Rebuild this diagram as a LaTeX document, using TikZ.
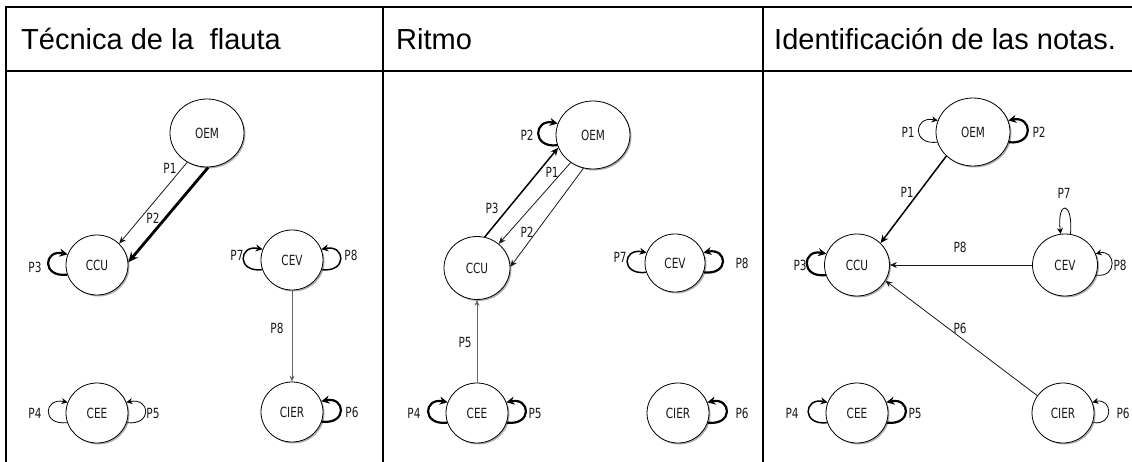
\documentclass[tikz,border=0pt]{standalone}
\usepackage{fontspec}
\setmainfont{Liberation Sans}
\newfontfamily\lblfont[FakeStretch=0.75]{DejaVu Sans}
\usetikzlibrary{shapes.geometric,arrows.meta,shadows}
\begin{document}
\begin{tikzpicture}[x=1pt,y=-1pt,
  st/.style={ellipse, draw=black, line width=0.8pt, fill=white, inner sep=0pt,
    minimum width=62pt, minimum height=60pt, text=black!90,
    font=\lblfont\fontsize{14}{14}\selectfont,
    drop shadow={shadow xshift=1.5pt,shadow yshift=-1.5pt,fill=black!45,opacity=0.7}},
  big/.style={minimum width=74pt, minimum height=68pt},
  lbl/.style={font=\lblfont\fontsize{14}{14}\selectfont, inner sep=0pt, text=black!90},
  head/.style={anchor=base west, inner sep=0pt, font=\fontsize{29}{30}\selectfont},
  rule/.style={line width=2.5pt, line cap=rect},
  eA/.style={line width=0.8pt, draw=black!90, -{Stealth[length=7pt,width=6pt]}},
  eG/.style={line width=0.6pt, draw=black!60, -{Stealth[length=6pt,width=5pt]}},
  eB/.style={line width=1.5pt, -{Stealth[length=8pt,width=7pt]}},
  eC/.style={line width=2.8pt, -{Stealth[length=10pt,width=9pt]}},
  lA/.style={line width=0.8pt, -{Stealth[length=6pt,width=6pt]}},
  lB/.style={line width=1.5pt, -{Stealth[length=7pt,width=7pt]}},
  lC/.style={line width=2.2pt, -{Stealth[length=8pt,width=8pt]}}
]
\useasboundingbox (0,0) rectangle (1132,462);
% table
\draw[rule] (6,7) -- (1132,7);
\draw[rule] (6,71) -- (1132,71);
\draw[rule] (6,7) -- (6,462);
\draw[rule] (383,7) -- (383,462);
\draw[rule] (763,7) -- (763,462);
\node[head] (h1) at (21,50) {Técnica de la\ \ flauta};
\node[head] (h2) at (396,50) {Ritmo};
\node[head] (h3) at (774,50) {Identificación de las notas.};

% ---------- panel 1 ----------
\node[st,big] (a1) at (207,133) {OEM};
\node[st] (b1) at (97,265) {CCU};
\node[st] (c1) at (292,260) {CEV};
\node[st] (d1) at (97,413) {CEE};
\node[st] (e1) at (292,412) {CIER};
\draw[eA] (a1.236) -- (b1.44);
\draw[eC] (a1.272) -- (b1.5);
\draw[eG] (c1.south) -- (e1.north);
\draw[lC] (b1.198) .. controls +(-26,3) and +(-24,-5) .. (b1.160);
\draw[lB] (c1.198) .. controls +(-26,3) and +(-24,-5) .. (c1.160);
\draw[lB] (c1.-18) .. controls +(26,3) and +(24,-5) .. (c1.20);
\draw[lA] (d1.198) .. controls +(-26,3) and +(-24,-5) .. (d1.160);
\draw[lA] (d1.-18) .. controls +(26,3) and +(24,-5) .. (d1.20);
\draw[lC] (e1.-18) .. controls +(26,3) and +(24,-5) .. (e1.20);
\node[lbl] (p1a) at (170,168) {P1};
\node[lbl] (p1b) at (153,218) {P2};
\node[lbl] (p1c) at (35,267) {P3};
\node[lbl] (p1d) at (237,255) {P7};
\node[lbl] (p1e) at (351,255) {P8};
\node[lbl] (p1f) at (277,328) {P8};
\node[lbl] (p1g) at (35,413) {P4};
\node[lbl] (p1h) at (153,413) {P5};
\node[lbl] (p1i) at (352,412) {P6};

% ---------- panel 2 ----------
\node[st,big] (a2) at (593,135) {OEM};
\node[st,minimum width=66pt,minimum height=63pt] (b2) at (477,268) {CCU};
\node[st,minimum width=60pt,minimum height=58pt] (c2) at (675,263) {CEV};
\node[st] (d2) at (477,413) {CEE};
\node[st] (e2) at (678,413) {CIER};
\draw[eB] (b2.76) -- (a2.200);
\draw[eA] (a2.231) -- (b2.48);
\draw[eA] (a2.254) -- (b2.2);
\draw[eG] (d2.north) -- (b2.south);
\draw[lC] (a2.196) .. controls +(-26,3) and +(-24,-5) .. (a2.162);
\draw[lC] (d2.198) .. controls +(-26,3) and +(-24,-5) .. (d2.160);
\draw[lC] (d2.-18) .. controls +(26,3) and +(24,-5) .. (d2.20);
\draw[lB] (c2.198) .. controls +(-26,3) and +(-24,-5) .. (c2.160);
\draw[lC] (c2.-18) .. controls +(26,3) and +(24,-5) .. (c2.20);
\draw[lC] (e2.-18) .. controls +(26,3) and +(24,-5) .. (e2.20);
\node[lbl] (p2a) at (527,135) {P2};
\node[lbl] (p2b) at (492,208) {P3};
\node[lbl] (p2c) at (552,172) {P1};
\node[lbl] (p2d) at (527,232) {P2};
\node[lbl] (p2e) at (465,342) {P5};
\node[lbl] (p2f) at (414,413) {P4};
\node[lbl] (p2g) at (535,413) {P5};
\node[lbl] (p2h) at (620,257) {P7};
\node[lbl] (p2i) at (742,263) {P8};
\node[lbl] (p2j) at (742,413) {P6};

% ---------- panel 3 ----------
\node[st,big] (a3) at (973,132) {OEM};
\node[st,minimum width=65pt,minimum height=62pt] (b3) at (857,265) {CCU};
\node[st,minimum width=65pt,minimum height=62pt] (c3) at (1065,265) {CEV};
\node[st] (d3) at (857,413) {CEE};
\node[st] (e3) at (1063,413) {CIER};
\draw[eB] (a3.222) -- (b3.43);
\draw[eA] (c3.west) -- (b3.east);
\draw[eA] (e3.146) -- (b3.331);
\draw[lA] (a3.196) .. controls +(-26,3) and +(-24,-5) .. (a3.162);
\draw[lC] (a3.-16) .. controls +(26,3) and +(24,-5) .. (a3.18);
\draw[lC] (b3.198) .. controls +(-26,3) and +(-24,-5) .. (b3.160);
\draw[lA] (c3.-18) .. controls +(22,3) and +(20,-5) .. (c3.20);
\draw[lA] (c3.80) .. controls +(3,-34) and +(-4,-34) .. (c3.98);
\draw[lB] (d3.198) .. controls +(-26,3) and +(-24,-5) .. (d3.160);
\draw[lC] (d3.-18) .. controls +(26,3) and +(24,-5) .. (d3.20);
\draw[lA] (e3.-18) .. controls +(22,3) and +(20,-5) .. (e3.20);
\node[lbl] (p3a) at (908,132) {P1};
\node[lbl] (p3b) at (1039,132) {P2};
\node[lbl] (p3c) at (907,192) {P1};
\node[lbl] (p3d) at (1064,193) {P7};
\node[lbl] (p3e) at (960,247) {P8};
\node[lbl] (p3f) at (1120,265) {P8};
\node[lbl] (p3g) at (800,265) {P3};
\node[lbl] (p3h) at (960,328) {P6};
\node[lbl] (p3i) at (792,413) {P4};
\node[lbl] (p3j) at (915,413) {P5};
\node[lbl] (p3k) at (1123,413) {P6};
\end{tikzpicture}
\end{document}
